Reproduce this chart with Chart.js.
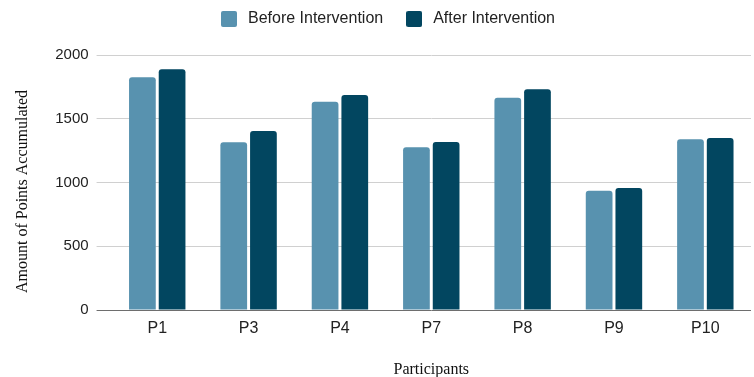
<!DOCTYPE html>
<html>
<head>
<meta charset="utf-8">
<title>Points accumulated before and after the intervention</title>
<script src="https://cdn.jsdelivr.net/npm/chart.js@4.4.1/dist/chart.umd.min.js"></script>
<style>
  html, body { margin: 0; padding: 0; background: #ffffff; }
  #wrap { position: relative; width: 754px; height: 377px; }
</style>
</head>
<body>
<div id="wrap"><canvas id="chart"></canvas></div>
<script>
// Participants and their accumulated points
const participants = ['P1', 'P3', 'P4', 'P7', 'P8', 'P9', 'P10'];
const beforeIntervention = [1825, 1315, 1634, 1276, 1665, 936, 1339];
const afterIntervention = [1888, 1404, 1686, 1318, 1731, 957, 1349];
const yTicks = [0, 500, 1000, 1500, 2000];

const seriesColors = ['#5892af', '#024660'];
const sans = "'Liberation Sans', Arial, sans-serif";
const serif = "'Liberation Serif', 'Times New Roman', serif";

// Small rounded squares used as legend swatches
function makeSwatch(color) {
  const c = document.createElement('canvas');
  c.width = 16; c.height = 16;
  const g = c.getContext('2d');
  g.fillStyle = color;
  g.beginPath();
  g.roundRect(0, 0, 16, 16, 2);
  g.fill();
  return c;
}
const swatches = seriesColors.map(makeSwatch);

// Fixed band for the legend above the plot, legend nudged into place,
// and the y-axis title lowered a little along its axis
const layoutTweaks = {
  id: 'layoutTweaks',
  beforeInit(chart) {
    const legend = chart.legend;
    if (!legend) return;
    const fit = legend.fit;
    legend.fit = function () {
      fit.call(this);
      this.height = 55;
    };
  },
  afterLayout(chart) {
    const legend = chart.legend;
    if (legend) {
      legend.left += 11; legend.right += 11;
      legend.top -= 9; legend.bottom -= 9;
    }
    const y = chart.scales.y;
    if (y && !y._titleShifted) {
      const drawTitle = y.drawTitle;
      y.drawTitle = function () {
        this.ctx.save();
        this.ctx.translate(0, 9);
        drawTitle.call(this);
        this.ctx.restore();
      };
      y._titleShifted = true;
    }
  }
};

new Chart(document.getElementById('chart'), {
  type: 'bar',
  data: {
    labels: participants,
    datasets: [
      {
        label: 'Before Intervention',
        data: beforeIntervention,
        backgroundColor: seriesColors[0],
        borderWidth: 0,
        borderRadius: 3,
        categoryPercentage: 0.65,
        barPercentage: 0.9
      },
      {
        label: 'After Intervention',
        data: afterIntervention,
        backgroundColor: seriesColors[1],
        borderWidth: 0,
        borderRadius: 3,
        categoryPercentage: 0.65,
        barPercentage: 0.9
      }
    ]
  },
  options: {
    responsive: true,
    maintainAspectRatio: false,
    animation: false,
    layout: { padding: { top: 0, left: 0, right: 3, bottom: -2 } },
    plugins: {
      tooltip: { enabled: false },
      legend: {
        position: 'top',
        align: 'center',
        labels: {
          usePointStyle: true,
          pointStyleWidth: 22,
          boxHeight: 16,
          padding: 20,
          color: '#222222',
          font: { family: sans, size: 16 },
          generateLabels(chart) {
            const items = Chart.defaults.plugins.legend.labels.generateLabels(chart);
            items.forEach((item, i) => { item.pointStyle = swatches[i]; });
            return items;
          }
        }
      }
    },
    scales: {
      x: {
        grid: { display: false, drawTicks: false },
        border: { display: false },
        ticks: { color: '#222222', padding: 9, font: { family: sans, size: 16 } },
        title: {
          display: true,
          text: 'Participants',
          color: '#111111',
          font: { family: serif, size: 16 },
          padding: { top: 12.6, bottom: 0 }
        }
      },
      y: {
        min: 0,
        max: 2000,
        afterBuildTicks(scale) {
          scale.ticks = yTicks.map(v => ({ value: v }));
        },
        border: { display: false },
        grid: {
          color: ctx => (ctx.tick && ctx.tick.value === 0 ? '#6e6e6e' : '#d0d0d0'),
          lineWidth: 1,
          tickLength: 15,
          drawTicks: true
        },
        ticks: {
          color: '#222222',
          padding: 8,
          font: { family: sans, size: 15 },
          callback: value => String(value)
        },
        title: {
          display: true,
          text: 'Amount of Points Accumulated',
          color: '#111111',
          font: { family: serif, size: 16 },
          padding: { top: 13, bottom: 15 }
        }
      }
    }
  },
  plugins: [layoutTweaks]
});
</script>
</body>
</html>
